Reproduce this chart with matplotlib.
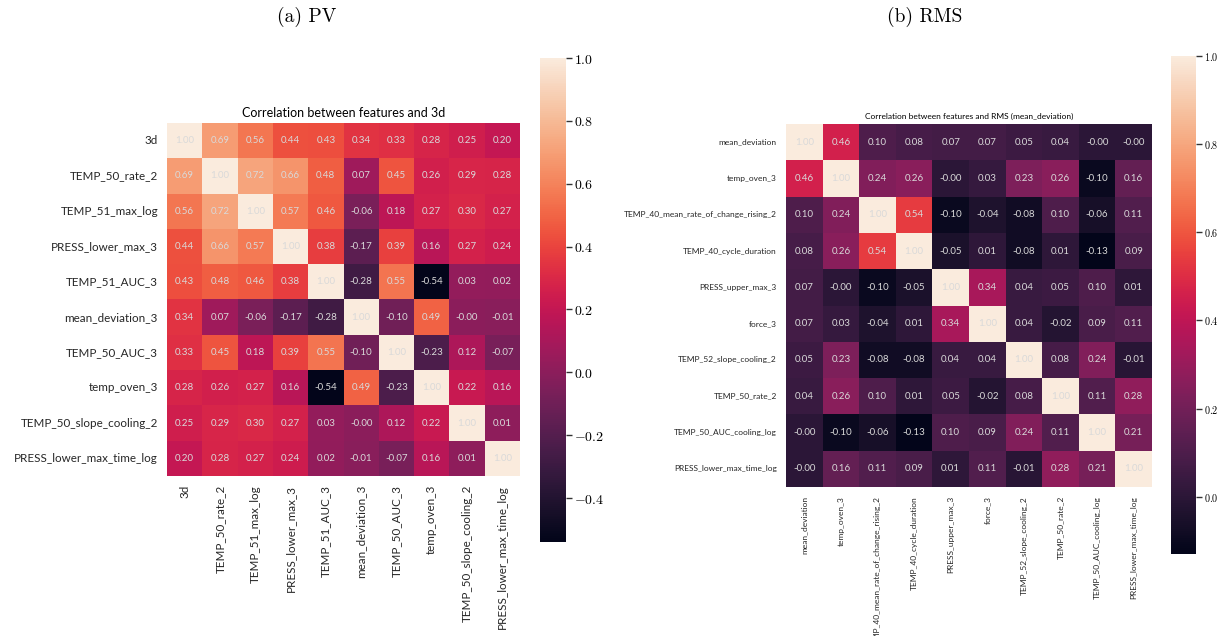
import numpy as np
import matplotlib
matplotlib.use('Agg')
import matplotlib.pyplot as plt
import seaborn as sns

# =====================================================
# DATOS
# =====================================================
pv_labels = ["3d", "TEMP_50_rate_2", "TEMP_51_max_log", "PRESS_lower_max_3",
             "TEMP_51_AUC_3", "mean_deviation_3", "TEMP_50_AUC_3", "temp_oven_3",
             "TEMP_50_slope_cooling_2", "PRESS_lower_max_time_log"]
pv_corr = [
    [1.00, 0.69, 0.56, 0.44, 0.43, 0.34, 0.33, 0.28, 0.25, 0.20],
    [0.69, 1.00, 0.72, 0.66, 0.48, 0.07, 0.45, 0.26, 0.29, 0.28],
    [0.56, 0.72, 1.00, 0.57, 0.46, -0.06, 0.18, 0.27, 0.30, 0.27],
    [0.44, 0.66, 0.57, 1.00, 0.38, -0.17, 0.39, 0.16, 0.27, 0.24],
    [0.43, 0.48, 0.46, 0.38, 1.00, -0.28, 0.55, -0.54, 0.03, 0.02],
    [0.34, 0.07, -0.06, -0.17, -0.28, 1.00, -0.10, 0.49, -0.00, -0.01],
    [0.33, 0.45, 0.18, 0.39, 0.55, -0.10, 1.00, -0.23, 0.12, -0.07],
    [0.28, 0.26, 0.27, 0.16, -0.54, 0.49, -0.23, 1.00, 0.22, 0.16],
    [0.25, 0.29, 0.30, 0.27, 0.03, -0.00, 0.12, 0.22, 1.00, 0.01],
    [0.20, 0.28, 0.27, 0.24, 0.02, -0.01, -0.07, 0.16, 0.01, 1.00],
]
pv_ticks = [1.0, 0.8, 0.6, 0.4, 0.2, 0.0, -0.2, -0.4]

rms_labels = ["mean_deviation", "temp_oven_3", "TEMP_40_mean_rate_of_change_rising_2",
              "TEMP_40_cycle_duration", "PRESS_upper_max_3", "force_3",
              "TEMP_52_slope_cooling_2", "TEMP_50_rate_2", "TEMP_50_AUC_cooling_log",
              "PRESS_lower_max_time_log"]
rms_corr = [
    [1.00, 0.46, 0.10, 0.08, 0.07, 0.07, 0.05, 0.04, -0.00, -0.00],
    [0.46, 1.00, 0.24, 0.26, -0.00, 0.03, 0.23, 0.26, -0.10, 0.16],
    [0.10, 0.24, 1.00, 0.54, -0.10, -0.04, -0.08, 0.10, -0.06, 0.11],
    [0.08, 0.26, 0.54, 1.00, -0.05, 0.01, -0.08, 0.01, -0.13, 0.09],
    [0.07, -0.00, -0.10, -0.05, 1.00, 0.34, 0.04, 0.05, 0.10, 0.01],
    [0.07, 0.03, -0.04, 0.01, 0.34, 1.00, 0.04, -0.02, 0.09, 0.11],
    [0.05, 0.23, -0.08, -0.08, 0.04, 0.04, 1.00, 0.08, 0.24, -0.01],
    [0.04, 0.26, 0.10, 0.01, 0.05, -0.02, 0.08, 1.00, 0.11, 0.28],
    [-0.00, -0.10, -0.06, -0.13, 0.10, 0.09, 0.24, 0.11, 1.00, 0.21],
    [-0.00, 0.16, 0.11, 0.09, 0.01, 0.11, -0.01, 0.28, 0.21, 1.00],
]
rms_ticks = [1.0, 0.8, 0.6, 0.4, 0.2, 0.0]

# =====================================================
# ESTILO
# =====================================================
# cmss10 no tiene "_" (lo pinta como acento), asi que Lato para los textos
plt.rcParams['font.family'] = ['Lato', 'DejaVu Sans']
plt.rcParams['mathtext.fontset'] = 'cm'
plt.rcParams['axes.unicode_minus'] = False

fig = plt.figure(figsize=(12.27, 6.36), dpi=100)
W, H = 1227, 636


def caja(x0, y0, x1, y1):
    # pixeles -> fraccion de figura
    return [x0 / W, 1 - y1 / H, (x1 - x0) / W, (y1 - y0) / H]


def dibujar(datos, etiquetas, ticks, titulo, pos_hm, pos_cb,
            fs_lab, fs_tit, fs_ann, fs_cb):
    ax = fig.add_axes(caja(*pos_hm))
    cax = fig.add_axes(caja(*pos_cb))
    m = np.array(datos)
    sns.heatmap(m, ax=ax, cbar_ax=cax, cmap='rocket', annot=True, fmt='.2f',
                annot_kws={'fontsize': fs_ann, 'color': '#d9d9d9'},
                xticklabels=etiquetas, yticklabels=etiquetas, square=False)
    ax.set_title(titulo, fontsize=fs_tit, pad=4)
    ax.tick_params(length=0, pad=6.5)
    ax.set_xticklabels(etiquetas, rotation=90, fontsize=fs_lab, color='#262626')
    ax.set_yticklabels(etiquetas, rotation=0, fontsize=fs_lab, color='#262626')
    cax.set_yticks(ticks)
    cax.set_yticklabels(['$%.1f$' % t for t in ticks], fontsize=fs_cb)
    cax.tick_params(length=4, width=1, color='#333333', pad=2)
    for s in cax.spines.values():
        s.set_visible(False)
    return ax


dibujar(pv_corr, pv_labels, pv_ticks, "Correlation between features and 3d",
        (167, 123, 520, 476), (540, 58, 566, 542), 8.4, 9, 7, 10)
dibujar(rms_corr, rms_labels, rms_ticks,
        "Correlation between features and RMS (mean_deviation)",
        (786, 124, 1152, 487), (1171, 56, 1196, 554), 6, 6, 7, 7.3)

fig.text(307 / W, 1 - 17 / H, "(a) PV", family='cmr10', fontsize=14,
         ha='center', va='center')
fig.text(925 / W, 1 - 17 / H, "(b) RMS", family='cmr10', fontsize=14,
         ha='center', va='center')

fig.savefig("out.png", dpi=100)
